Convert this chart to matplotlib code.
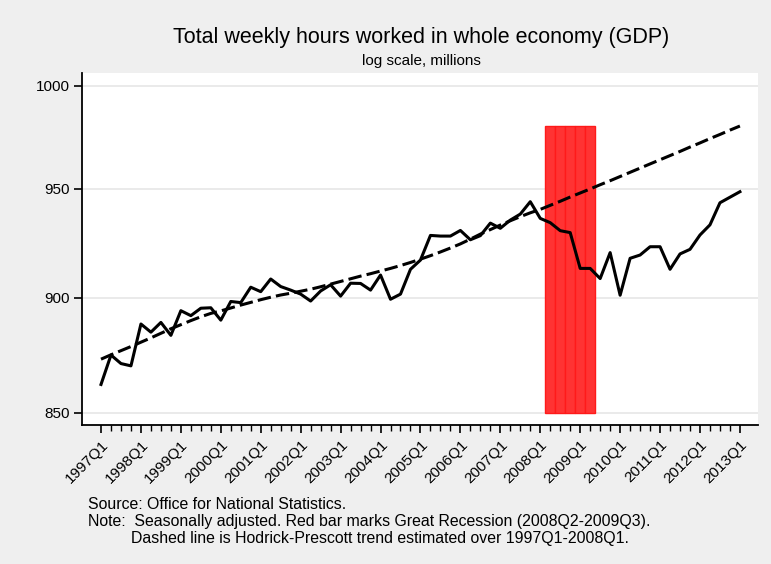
import numpy as np
import matplotlib
matplotlib.use('Agg')
import matplotlib.pyplot as plt
from matplotlib.ticker import FixedLocator, NullFormatter, NullLocator

plt.rcParams['font.family'] = ['Liberation Sans', 'DejaVu Sans']

# data: quarterly, 1997Q1 - 2013Q1
years = list(range(1997, 2014))
quarters = [f'{y}Q{q}' for y in years for q in range(1, 5)][:65]

hours = [862.0, 874.7, 871.0, 870.0, 888.3, 884.7, 889.0, 883.3,
         894.2, 892.0, 895.3, 895.5, 890.0, 898.3, 897.8, 904.7,
         902.7, 908.4, 905.0, 903.4, 901.6, 898.5, 903.0, 905.8,
         900.7, 906.5, 906.4, 903.4, 910.2, 899.3, 901.6, 912.8,
         917.0, 928.3, 928.0, 928.0, 930.6, 926.3, 928.2, 934.0,
         931.6, 935.4, 938.2, 944.0, 936.2, 934.2, 930.5, 929.6,
         913.2, 913.2, 908.6, 920.4, 901.1, 917.8, 919.3, 923.1,
         923.1, 912.8, 919.8, 921.9, 928.5, 933.2, 943.5, 946.1,
         948.7]

trend = [872.9, 874.8, 876.6, 878.4, 880.3, 882.2, 884.2, 886.2,
         888.0, 889.8, 891.5, 893.0, 894.1, 895.4, 896.7, 897.9,
         899.1, 900.2, 901.2, 902.0, 902.9, 903.8, 904.9, 906.1,
         907.3, 908.5, 909.7, 910.8, 912.0, 913.2, 914.5, 915.9,
         917.4, 919.0, 920.7, 922.5, 924.4, 926.6, 928.9, 931.0,
         933.1, 935.1, 937.0, 938.8, 940.4, 942.3, 944.2, 946.2,
         948.1, 950.0, 952.0, 953.9, 955.9, 957.9, 959.9, 961.9,
         963.9, 965.9, 967.9, 970.0, 972.0, 974.1, 976.1, 978.2,
         980.2]

# recession bar quarters (as drawn)
recession = ['2008Q2', '2008Q3', '2008Q4', '2009Q1', '2009Q2']
bar_low, bar_high = 850, 980

yticks = [850, 900, 950, 1000]

x = np.arange(len(quarters))
rec_x = [quarters.index(q) for q in recession]

fig = plt.figure(figsize=(7.71, 5.64), dpi=100)
fig.patch.set_facecolor('#efefef')
ax = fig.add_axes([0.1064, 0.2465, 0.8766, 0.6241])
ax.set_facecolor('white')

ax.bar(rec_x, [bar_high - bar_low] * len(rec_x), bottom=bar_low, width=1.0,
       color='#ff3333', edgecolor='#ff1a1a', linewidth=1.0, zorder=2)
ax.plot(x, hours, color='black', lw=2.2, zorder=3)
ax.plot(x, trend, color='black', lw=2.2, dashes=(4.4, 1.7), zorder=3)

ax.set_yscale('log')
ax.set_ylim(844.8, 1006.4)
ax.yaxis.set_major_locator(FixedLocator(yticks))
ax.yaxis.set_minor_locator(NullLocator())
ax.yaxis.set_minor_formatter(NullFormatter())
ax.set_yticklabels([str(v) for v in yticks], fontsize=11)
ax.grid(axis='y', color='#e6e6e6', lw=1.2, zorder=0)
ax.set_axisbelow(True)

ax.set_xlim(-1.9, 65.8)
major = [i for i, q in enumerate(quarters) if q.endswith('Q1')]
ax.set_xticks(major)
ax.set_xticklabels([quarters[i] for i in major], rotation=45, ha='right',
                   rotation_mode='anchor', fontsize=11)
ax.set_xticks(x, minor=True)
ax.tick_params(axis='x', which='major', length=6, width=1.2, pad=3)
ax.tick_params(axis='x', which='minor', length=4, width=1.0)
ax.tick_params(axis='y', which='major', length=6, width=1.2, pad=3)

for s in ['top', 'right']:
    ax.spines[s].set_visible(False)
for s in ['left', 'bottom']:
    ax.spines[s].set_linewidth(1.3)

fig.text(0.546, 0.934, 'Total weekly hours worked in whole economy (GDP)',
         ha='center', va='center', fontsize=15.5)
fig.text(0.546, 0.892, 'log scale, millions', ha='center', va='center', fontsize=11)

fig.text(0.114, 0.106, 'Source: Office for National Statistics.', fontsize=11.4, va='center')
fig.text(0.114, 0.076, 'Note:  Seasonally adjusted. Red bar marks Great Recession (2008Q2-2009Q3).',
         fontsize=11.4, va='center')
fig.text(0.170, 0.046, 'Dashed line is Hodrick-Prescott trend estimated over 1997Q1-2008Q1.',
         fontsize=11.4, va='center')

fig.savefig('out.png', dpi=100, facecolor=fig.get_facecolor())
